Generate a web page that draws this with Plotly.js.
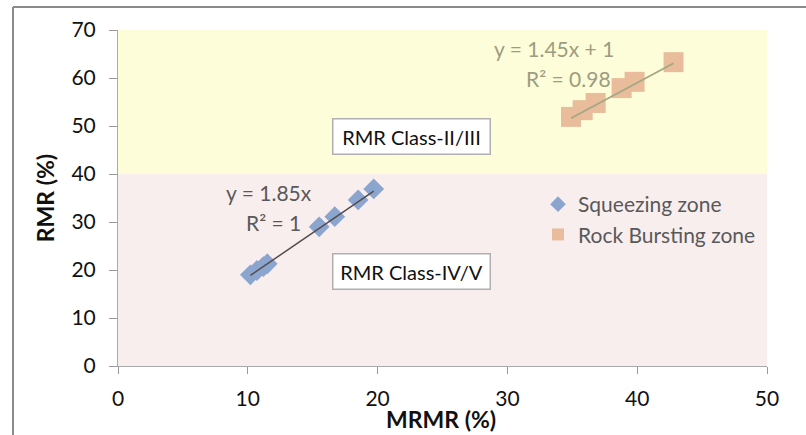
<!DOCTYPE html>
<html>
<head>
<meta charset="utf-8">
<script src="https://cdn.plot.ly/plotly-3.0.1.min.js"></script>
<style>html,body{margin:0;padding:0;background:#fff;}#chart{width:806px;height:435px;}</style>
</head>
<body>
<div id="chart"></div>
<script>
// Data
const squeezeX = [10.2, 10.7, 11.2, 11.5, 15.5, 16.7, 18.5, 19.7];
const squeezeY = [19.0, 19.9, 20.7, 21.3, 29.0, 31.1, 34.6, 36.9];
const burstX = [34.9, 35.8, 36.8, 38.8, 39.8, 42.8];
const burstY = [51.9, 53.3, 54.8, 57.9, 59.2, 63.3];
const squeezeFit = {slope: 1.85, intercept: 0, label: "y = 1.85x", r2: "R² = 1"};
const burstFit = {slope: 1.45, intercept: 1, label: "y = 1.45x + 1", r2: "R² = 0.98"};
const seriesNames = ["Squeezing zone", "Rock Bursting zone"];
const classLabels = ["RMR Class-II/III", "RMR Class-IV/V"];
const xTitle = "MRMR (%)";
const yTitle = "RMR (%)";
const xTicks = [0, 10, 20, 30, 40, 50];
const yTicks = [0, 10, 20, 30, 40, 50, 60, 70];

function fitLine(xs, fit) {
  const x0 = Math.min(...xs), x1 = Math.max(...xs);
  return {x: [x0, x1], y: [fit.slope * x0 + fit.intercept, fit.slope * x1 + fit.intercept]};
}
const sl = fitLine(squeezeX, squeezeFit);
const bl = fitLine(burstX, burstFit);

const FONT = "Lato, 'Open Sans', sans-serif";
const data = [
  {x: squeezeX, y: squeezeY, mode: 'markers', name: seriesNames[0],
   marker: {symbol: 'diamond', size: 16, color: '#8ba5ce'}},
  {x: burstX, y: burstY, mode: 'markers', name: seriesNames[1],
   marker: {symbol: 'square', size: 20, color: '#e9bd9c'}},
  {x: sl.x, y: sl.y, mode: 'lines', line: {color: '#544c4c', width: 1.5}, showlegend: false, hoverinfo: 'skip'},
  {x: bl.x, y: bl.y, mode: 'lines', line: {color: '#a4a784', width: 1.8}, showlegend: false, hoverinfo: 'skip'}
];

const L = 118, R = 767, T = 30, B = 366;
const px2paperX = p => (p - L) / (R - L);
const px2paperY = p => (B - p) / (B - T);

const layout = {
  width: 806, height: 435,
  margin: {l: L, r: 806 - R, t: T, b: 435 - B},
  paper_bgcolor: '#ffffff', plot_bgcolor: '#ffffff',
  font: {family: FONT, color: '#111', size: 20},
  showlegend: true,
  legend: {x: px2paperX(538), y: px2paperY(184), xanchor: 'left', yanchor: 'top',
           bgcolor: 'rgba(0,0,0,0)', font: {size: 21, color: '#595959', family: FONT},
           itemwidth: 30, itemsizing: 'constant'},
  xaxis: {range: [0, 50], tickvals: xTicks, ticks: 'outside', ticklen: 7, tickcolor: '#999',
          showline: true, linecolor: '#aaa', linewidth: 1, showgrid: false, zeroline: false,
          tickfont: {size: 21, color: '#111'}, ticklabelstandoff: 7},
  yaxis: {range: [0, 70], tickvals: yTicks, ticks: 'outside', ticklen: 8, tickcolor: '#999',
          showline: true, linecolor: '#aaa', linewidth: 1, showgrid: false, zeroline: false,
          tickfont: {size: 21, color: '#111'}, ticklabelstandoff: 9,
          title: {text: '<b>' + yTitle + '</b>', font: {size: 23, color: '#111'}, standoff: 10}},
  shapes: [
    {type: 'rect', xref: 'x', yref: 'y', x0: 0, x1: 50, y0: 40, y1: 70, layer: 'below',
     line: {width: 0}, fillcolor: '#fefdd9'},
    {type: 'rect', xref: 'x', yref: 'y', x0: 0, x1: 50, y0: 0, y1: 40, layer: 'below',
     line: {width: 0}, fillcolor: '#f9eeee'},
    // outer frame (top and left edges visible)
    {type: 'line', xref: 'paper', yref: 'paper', x0: px2paperX(13), x1: px2paperX(806),
     y0: px2paperY(7), y1: px2paperY(7), line: {color: '#8a8a8a', width: 2}},
    {type: 'line', xref: 'paper', yref: 'paper', x0: px2paperX(13), x1: px2paperX(13),
     y0: px2paperY(7), y1: px2paperY(436), line: {color: '#8a8a8a', width: 2}}
  ],
  annotations: [
    {x: px2paperX(441), y: px2paperY(419), xref: 'paper', yref: 'paper', xanchor: 'center', yanchor: 'middle',
     text: '<b>' + xTitle + '</b>', showarrow: false, font: {size: 23, color: '#111'}},
    {x: 22.6, y: 47.9, xref: 'x', yref: 'y', text: classLabels[0], showarrow: false,
     font: {size: 20, color: '#111'}, bgcolor: '#ffffff', bordercolor: '#b0b0b0', borderwidth: 1.5,
     borderpad: 5, width: 146},
    {x: 22.6, y: 19.6, xref: 'x', yref: 'y', text: classLabels[1], showarrow: false,
     font: {size: 20, color: '#111'}, bgcolor: '#ffffff', bordercolor: '#b0b0b0', borderwidth: 1.5,
     borderpad: 5, width: 146},
    {x: 11.6, y: 36.2, xref: 'x', yref: 'y', text: squeezeFit.label, showarrow: false,
     font: {size: 21, color: '#595959'}},
    {x: 12.0, y: 30.0, xref: 'x', yref: 'y', text: squeezeFit.r2, showarrow: false,
     font: {size: 21, color: '#595959'}},
    {x: 33.6, y: 66.25, xref: 'x', yref: 'y', text: burstFit.label, showarrow: false,
     font: {size: 21, color: '#9c9c80'}},
    {x: 34.7, y: 60.0, xref: 'x', yref: 'y', text: burstFit.r2, showarrow: false,
     font: {size: 21, color: '#9c9c80'}}
  ]
};

Plotly.newPlot('chart', data, layout, {displayModeBar: false, staticPlot: true});
</script>
</body>
</html>
